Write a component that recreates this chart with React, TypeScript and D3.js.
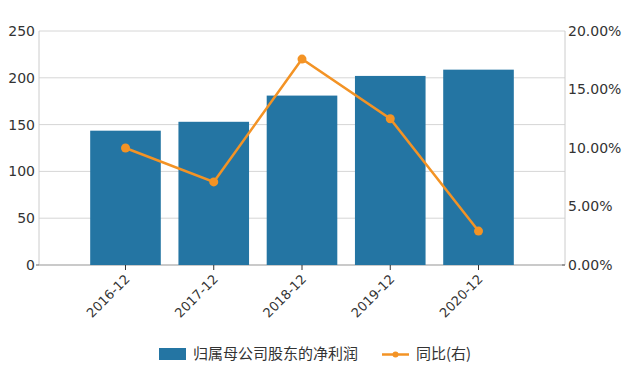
import React from "react";
import * as d3 from "d3";

const periods = ["2016-12", "2017-12", "2018-12", "2019-12", "2020-12"];
const netProfit = [143.5, 153, 181, 202, 208.7];
const yoyPct = [10.0, 7.1, 17.6, 12.5, 2.9];
const leftTicks = [0, 50, 100, 150, 200, 250];
const rightTicks = [0, 5, 10, 15, 20];
const barName = "归属母公司股东的净利润";
const lineName = "同比(右)";

const W = 634;
const H = 373;
const margin = { top: 31, right: 69, bottom: 108, left: 39 };
const barColor = "#2475a3";
const lineColor = "#f39325";
const font = "'DejaVu Sans', Verdana, sans-serif";

export default function App() {
  const x0 = margin.left;
  const x1 = W - margin.right;
  const y0 = H - margin.bottom;
  const y1 = margin.top;

  const x = d3.scaleBand<string>().domain(periods).range([x0, x1]).paddingInner(0.2).paddingOuter(0.58);
  const yL = d3.scaleLinear().domain([0, 250]).range([y0, y1]);
  const yR = d3.scaleLinear().domain([0, 20]).range([y0, y1]);

  const line = d3
    .line<number>()
    .x((_, i) => x(periods[i])! + x.bandwidth() / 2)
    .y((d) => yR(d));

  return (
    <svg width={W} height={H} style={{ position: "absolute", left: 0, top: 0, background: "#fff" }}>
      {/* grid */}
      {leftTicks.slice(1).map((t) => (
        <line key={t} x1={x0} x2={x1} y1={yL(t)} y2={yL(t)} stroke="#d6d6d6" strokeWidth={1} />
      ))}
      {/* axes */}
      <line x1={x0} x2={x0} y1={y1} y2={y0} stroke="#cccccc" />
      <line x1={x1} x2={x1} y1={y1} y2={y0} stroke="#cccccc" />
      <line x1={x0} x2={x1} y1={y0} y2={y0} stroke="#b8b8b8" strokeWidth={1.5} />
      <line x1={x0 - 3} x2={x0} y1={y0} y2={y0} stroke="#666" />
      <line x1={x1 - 3} x2={x1} y1={y0} y2={y0} stroke="#666" />

      {leftTicks.map((t) => (
        <text key={t} x={x0 - 4} y={yL(t)} dy="0.35em" textAnchor="end" fontFamily={font} fontSize={14} fill="#333">
          {t}
        </text>
      ))}
      {rightTicks.map((t) => (
        <text key={t} x={x1 + 3} y={yR(t)} dy="0.35em" textAnchor="start" fontFamily={font} fontSize={14} fill="#333">
          {t.toFixed(2) + "%"}
        </text>
      ))}

      {/* bars */}
      {periods.map((p, i) => (
        <rect key={p} x={x(p)} y={yL(netProfit[i])} width={x.bandwidth()} height={y0 - yL(netProfit[i])} fill={barColor} />
      ))}

      {/* x ticks and labels */}
      {periods.map((p) => {
        const cx = x(p)! + x.bandwidth() / 2;
        return (
          <g key={p}>
            <line x1={cx} x2={cx} y1={y0} y2={y0 + 5} stroke="#333" />
            <text
              transform={`translate(${cx + 5},${y0 + 15}) rotate(-45)`}
              textAnchor="end"
              fontFamily={font}
              fontSize={13}
              fill="#333"
            >
              {p}
            </text>
          </g>
        );
      })}

      {/* line */}
      <path d={line(yoyPct) ?? ""} fill="none" stroke={lineColor} strokeWidth={2.5} />
      {yoyPct.map((v, i) => (
        <circle key={i} cx={x(periods[i])! + x.bandwidth() / 2} cy={yR(v)} r={4.5} fill={lineColor} />
      ))}

      {/* legend */}
      <rect x={159} y={348} width={27} height={12} fill={barColor} />
      <text x={193} y={354} dy="0.35em" fontFamily="'Noto Sans CJK SC', sans-serif" fontSize={15} fill="#333">
        {barName}
      </text>
      <line x1={382} x2={409} y1={354.5} y2={354.5} stroke={lineColor} strokeWidth={2.5} />
      <circle cx={395.5} cy={354.5} r={3} fill={lineColor} />
      <text x={416} y={354} dy="0.35em" fontFamily="'Noto Sans CJK SC', sans-serif" fontSize={15} fill="#333">
        {lineName}
      </text>
    </svg>
  );
}
